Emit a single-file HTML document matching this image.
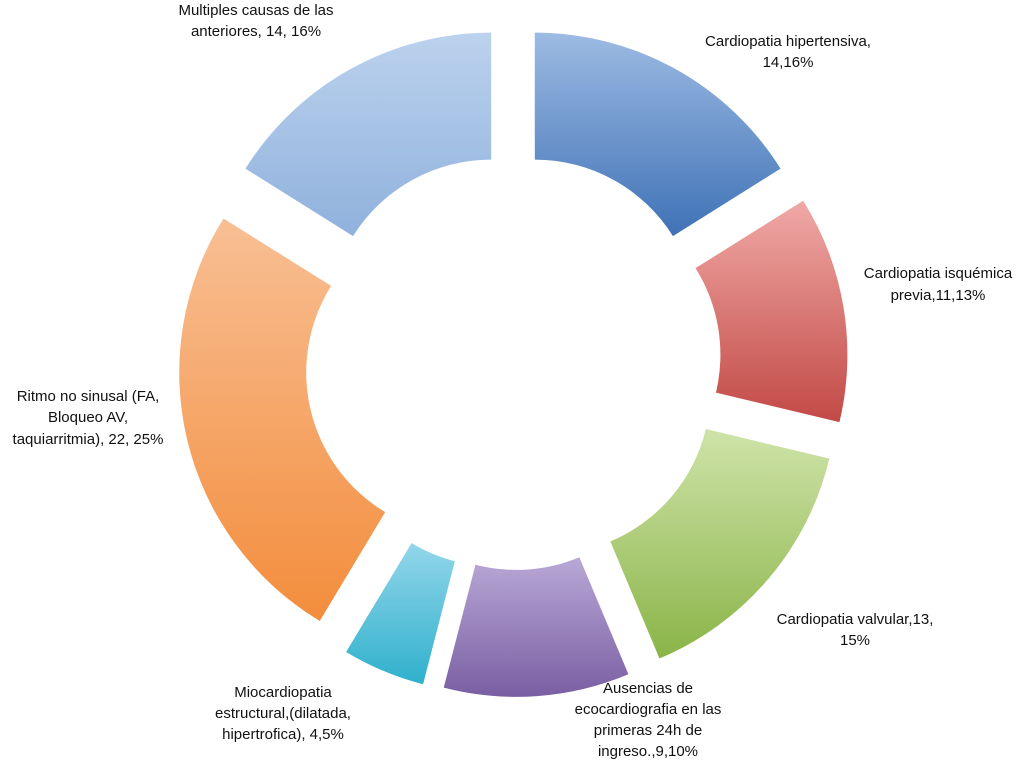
<!DOCTYPE html>
<html><head><meta charset="utf-8"><style>
html,body{margin:0;padding:0;background:#fff;}
svg{display:block;}
text{font-family:"Liberation Sans",sans-serif;font-size:15px;fill:#111;}
</style></head><body>
<svg id="chart" width="1024" height="760" viewBox="0 0 1024 760">
<defs>
<linearGradient id="g0" x1="0" y1="0" x2="0" y2="1"><stop offset="0" stop-color="#9dbbe3"/><stop offset="1" stop-color="#3f72b6"/></linearGradient>
<linearGradient id="g1" x1="0" y1="0" x2="0" y2="1"><stop offset="0" stop-color="#f0a9a6"/><stop offset="1" stop-color="#c24a46"/></linearGradient>
<linearGradient id="g2" x1="0" y1="0" x2="0" y2="1"><stop offset="0" stop-color="#cfe3a9"/><stop offset="1" stop-color="#8ab448"/></linearGradient>
<linearGradient id="g3" x1="0" y1="0" x2="0" y2="1"><stop offset="0" stop-color="#b9a8d6"/><stop offset="1" stop-color="#7a5ea3"/></linearGradient>
<linearGradient id="g4" x1="0" y1="0" x2="0" y2="1"><stop offset="0" stop-color="#93d6ea"/><stop offset="1" stop-color="#2fb0cc"/></linearGradient>
<linearGradient id="g5" x1="0" y1="0" x2="0" y2="1"><stop offset="0" stop-color="#f8bf94"/><stop offset="1" stop-color="#f38d3c"/></linearGradient>
<linearGradient id="g6" x1="0" y1="0" x2="0" y2="1"><stop offset="0" stop-color="#bcd2ee"/><stop offset="1" stop-color="#8fb1dc"/></linearGradient>
</defs>
<g id="slices"></g>
<g id="labels">
<text text-anchor="middle"><tspan x="788" y="46">Cardiopatia hipertensiva,</tspan><tspan x="788" y="67">14,16%</tspan></text>
<text text-anchor="middle"><tspan x="938" y="278">Cardiopatia isquémica</tspan><tspan x="938" y="300">previa,11,13%</tspan></text>
<text text-anchor="middle"><tspan x="855" y="624">Cardiopatia valvular,13,</tspan><tspan x="855" y="645">15%</tspan></text>
<text text-anchor="middle"><tspan x="648" y="693">Ausencias de</tspan><tspan x="648" y="714">ecocardiografia en las</tspan><tspan x="648" y="735">primeras 24h de</tspan><tspan x="648" y="756">ingreso.,9,10%</tspan></text>
<text text-anchor="middle"><tspan x="283" y="697">Miocardiopatia</tspan><tspan x="283" y="718">estructural,(dilatada,</tspan><tspan x="283" y="739">hipertrofica), 4,5%</tspan></text>
<text text-anchor="middle"><tspan x="88" y="401">Ritmo no sinusal (FA,</tspan><tspan x="88" y="422">Bloqueo AV,</tspan><tspan x="88" y="444">taquiarritmia), 22, 25%</tspan></text>
<text text-anchor="middle"><tspan x="256" y="15">Multiples causas de las</tspan><tspan x="256" y="36">anteriores, 14, 16%</tspan></text>
</g>
</svg>
<script>
const categories = ["Cardiopatia hipertensiva","Cardiopatia isquémica previa","Cardiopatia valvular","Ausencias de ecocardiografia","Miocardiopatia estructural","Ritmo no sinusal","Multiples causas"];
const values = [14, 11, 13, 9, 4, 22, 14];
const cx = 513, cy = 362, R = 290, r = 163, ex = 45;
const total = values.reduce((a,b)=>a+b,0);
const g = document.getElementById('slices');
function pt(a, rad, ox, oy){ return [ox + rad*Math.sin(a), oy - rad*Math.cos(a)]; }
let cum = 0;
values.forEach((v,i)=>{
  const a0 = cum/total*2*Math.PI; cum += v; const a1 = cum/total*2*Math.PI;
  const am = (a0+a1)/2;
  const ox = cx + ex*Math.sin(am), oy = cy - ex*Math.cos(am);
  const p1 = pt(a0,R,ox,oy), p2 = pt(a1,R,ox,oy), p3 = pt(a1,r,ox,oy), p4 = pt(a0,r,ox,oy);
  const large = (a1-a0) > Math.PI ? 1 : 0;
  const d = `M${p1[0]},${p1[1]} A${R},${R} 0 ${large} 1 ${p2[0]},${p2[1]} L${p3[0]},${p3[1]} A${r},${r} 0 ${large} 0 ${p4[0]},${p4[1]} Z`;
  const p = document.createElementNS('http://www.w3.org/2000/svg','path');
  p.setAttribute('d', d);
  p.setAttribute('fill', `url(#g${i})`);
  
  
  g.appendChild(p);
});
</script>
</body></html>
